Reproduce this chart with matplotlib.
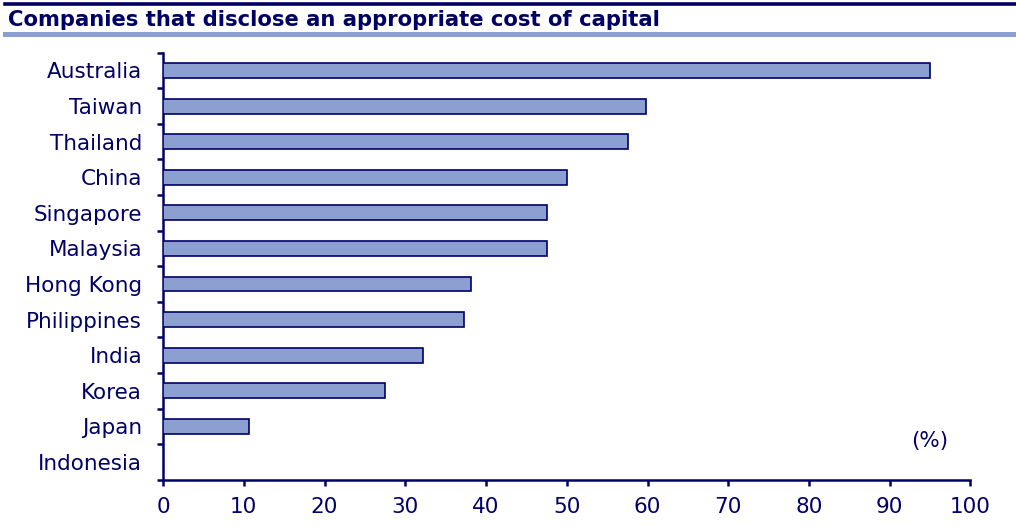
import matplotlib.pyplot as plt
from matplotlib.lines import Line2D
from matplotlib.patches import Rectangle
import numpy as np

# survey results, top to bottom
countries = ["Australia", "Taiwan", "Thailand", "China", "Singapore", "Malaysia",
             "Hong Kong", "Philippines", "India", "Korea", "Japan", "Indonesia"]
shares = [95.0, 59.8, 57.6, 50.0, 47.6, 47.5, 38.1, 37.3, 32.2, 27.5, 10.7, 0.0]
x_ticks = [0, 10, 20, 30, 40, 50, 60, 70, 80, 90, 100]

NAVY = "#000066"
BAR = "#8b9fd1"
BAND = "#8b9fd0"

fig = plt.figure(figsize=(10.16, 5.25), dpi=100)

# header: dark rule, bold title, light band
fig.add_artist(Line2D([5 / 1016, 1.0], [1 - 3.5 / 525] * 2, color=NAVY, lw=2.6,
                      transform=fig.transFigure))
fig.text(8 / 1016, 1 - 19.5 / 525, "Companies that disclose an appropriate cost of capital",
         color=NAVY, fontsize=15.2, fontweight="bold", va="center", ha="left")
fig.add_artist(Rectangle((3 / 1016, 1 - 37 / 525), 1.0, 5 / 525, color=BAND,
                         transform=fig.transFigure, lw=0))

ax = fig.add_axes([163 / 1016, 45.3 / 525, 807.5 / 1016, 427 / 525])

n = len(countries)
pos = np.arange(n)
ax.barh(pos, shares, height=0.42, color=BAR, edgecolor=NAVY, linewidth=1.2, zorder=3)

ax.set_xlim(0, 100)
ax.set_ylim(n - 0.5, -0.5)
ax.set_xticks(x_ticks)
ax.set_xticklabels([str(t) for t in x_ticks])

# category labels between the boundary ticks
ax.set_yticks(np.arange(-0.5, n, 1.0))
ax.set_yticklabels([])
ax.set_yticks(pos, minor=True)
ax.set_yticklabels(countries, minor=True)
ax.tick_params(axis="both", which="both", labelsize=15.5, labelcolor=NAVY)
ax.tick_params(axis="y", which="minor", length=0, pad=15)
ax.tick_params(axis="y", which="major", length=4.5, width=1.8, color=NAVY)
ax.tick_params(axis="x", which="major", length=4.5, width=1.8, color=NAVY, pad=8)

for side in ["top", "right"]:
    ax.spines[side].set_visible(False)
for side in ["left", "bottom"]:
    ax.spines[side].set_color(NAVY)
    ax.spines[side].set_linewidth(1.8)

ax.text(95.0, 10.4, "(%)", color=NAVY, fontsize=15.5, ha="center", va="center")

fig.savefig("out.png", dpi=100)
